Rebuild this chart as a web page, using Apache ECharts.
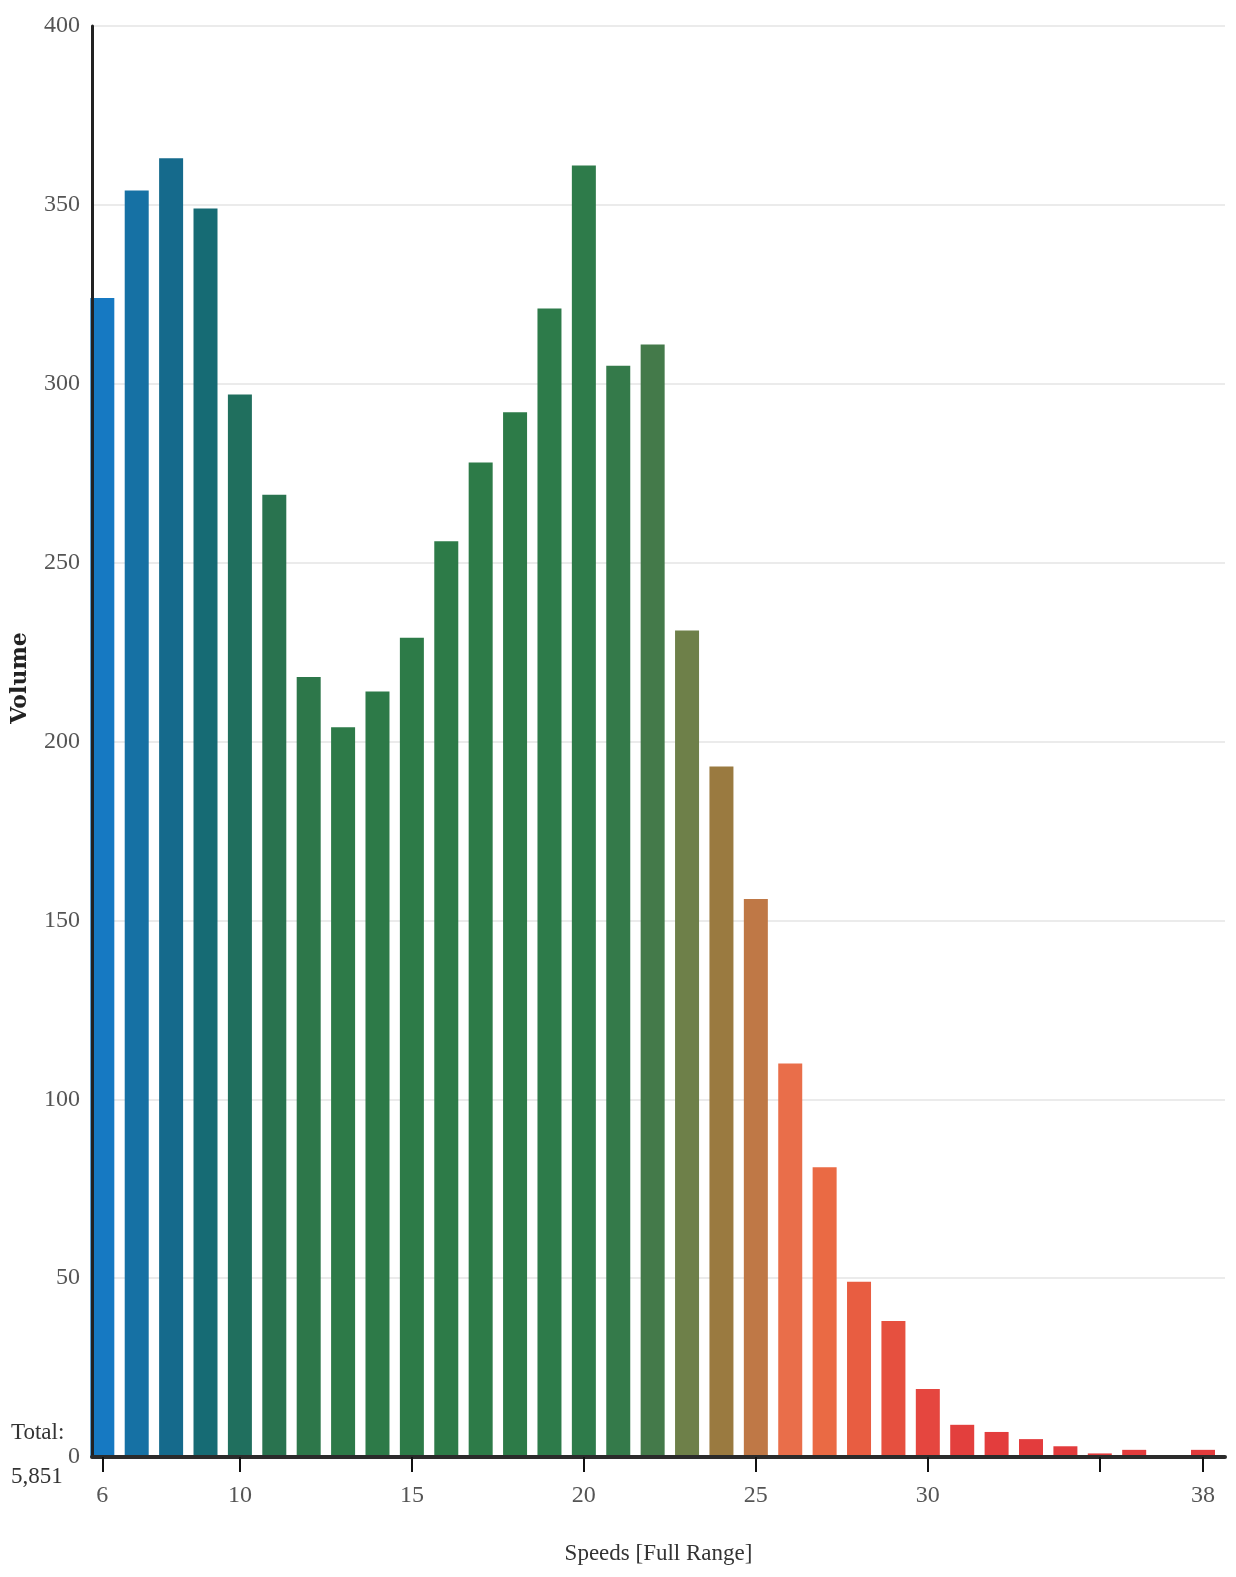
<!DOCTYPE html>
<html>
<head>
<meta charset="utf-8">
<title>Speeds [Full Range]</title>
<script src="https://cdn.jsdelivr.net/npm/echarts@6/dist/echarts.min.js"></script>
<style>
  html, body { margin: 0; padding: 0; background: #fff; }
  .speed_hist .w_chart { width: 1236px; height: 1577px; }
</style>
</head>
<body>
<div class="speed_hist"><div class="w_chart"></div></div>
<script>
// data
var speeds = [6, 7, 8, 9, 10, 11, 12, 13, 14, 15, 16, 17, 18, 19, 20, 21, 22,
  23, 24, 25, 26, 27, 28, 29, 30, 31, 32, 33, 34, 35, 36, 37, 38];
var volumes = [324, 354, 363, 349, 297, 269, 218, 204, 214, 229, 256, 278, 292,
  321, 361, 305, 311, 231, 193, 156, 110, 81, 49, 38, 19, 9, 7, 5, 3, 1, 2, 0, 2];
// one colour per speed, blue -> green -> orange -> red
var barColors = ["#1679c2", "#1671a4", "#156a8c", "#166b74", "#206f5e", "#29734f",
  "#2d774a", "#2d7a48", "#2d7a48", "#2d7b48", "#2d7b48", "#2d7b48", "#2d7b48",
  "#2d7b4a", "#2e7b4a", "#347a4a", "#447a4a", "#6e8049", "#9a7a40", "#bf7846",
  "#e96e4a", "#ea6a44", "#e85d41", "#e6503f", "#e5463f", "#e33f3d", "#e33d3d",
  "#e33c3d", "#e23b3c", "#e23b3c", "#e23b3c", "#e23b3c", "#e23b3c"];
var xTickValues = [6, 10, 15, 20, 25, 30, 35, 38];
var xLabelValues = [6, 10, 15, 20, 25, 30, 38];
var yMin = 0, yMax = 400, yStep = 50;

(function() {
  var myChart = echarts.init(document.querySelector(".speed_hist .w_chart"));

  var total = volumes.reduce(function(a, b) { return a + b; }, 0);
  var seriesData = speeds.map(function(s, i) {
    return { value: [s, volumes[i]], itemStyle: { color: barColors[i] } };
  });

  var serif = "Liberation Serif";

  var option = {
    animation: false,
    backgroundColor: "#fff",
    grid: {
      left: 92,
      right: 11,
      top: 26,
      bottom: 120
    },
    xAxis: {
      type: "value",
      min: 5.7,
      max: 38.64,
      z: 3,
      name: "Speeds [Full Range]",
      nameLocation: "middle",
      nameGap: 85,
      nameTextStyle: { fontFamily: serif, fontSize: 23, color: "#333" },
      axisLine: { show: true, onZero: true, lineStyle: { color: "#2b2b2b", width: 4 } },
      axisTick: {
        show: true,
        customValues: xTickValues,
        length: 15,
        lineStyle: { color: "#111", width: 2 }
      },
      axisLabel: {
        customValues: xLabelValues,
        margin: 27,
        fontFamily: serif,
        fontSize: 24,
        color: "#555"
      },
      splitLine: { show: false }
    },
    yAxis: [
      {
        // axis line and labels, drawn above the bars
        type: "value",
        min: yMin,
        max: yMax,
        interval: yStep,
        z: 3,
        axisLine: { show: true, lineStyle: { color: "#222", width: 3 } },
        axisTick: { show: false },
        axisLabel: {
          margin: 12,
          fontFamily: serif,
          fontSize: 24,
          color: "#555"
        },
        splitLine: { show: false }
      },
      {
        // grid lines only, behind the bars
        type: "value",
        position: "left",
        min: yMin,
        max: yMax,
        interval: yStep,
        z: 0,
        axisLine: { show: false },
        axisTick: { show: false },
        axisLabel: { show: false },
        splitLine: { lineStyle: { color: "#e4e4e4", width: 1.5 } }
      }
    ],
    graphic: [
      {
        type: "text",
        x: 20,
        y: 678,
        rotation: Math.PI / 2,
        style: {
          text: "Volume",
          fontFamily: "DejaVu Serif",
          fontWeight: "bold",
          fontSize: 22,
          fill: "#222",
          align: "center",
          verticalAlign: "middle"
        }
      },
      {
        type: "text",
        x: 11,
        y: 1433,
        style: {
          text: "Total:",
          fontFamily: serif,
          fontSize: 23,
          fill: "#333",
          align: "left",
          verticalAlign: "middle"
        }
      },
      {
        type: "text",
        x: 11,
        y: 1477,
        style: {
          text: total.toLocaleString("en-US"),
          fontFamily: serif,
          fontSize: 23,
          fill: "#333",
          align: "left",
          verticalAlign: "middle"
        }
      }
    ],
    series: [
      {
        name: "Volume",
        type: "bar",
        barWidth: 24,
        clip: true,
        data: seriesData
      }
    ]
  };

  myChart.setOption(option);
  window.addEventListener("resize", function() {
    myChart.resize();
  });
})();
</script>
</body>
</html>
